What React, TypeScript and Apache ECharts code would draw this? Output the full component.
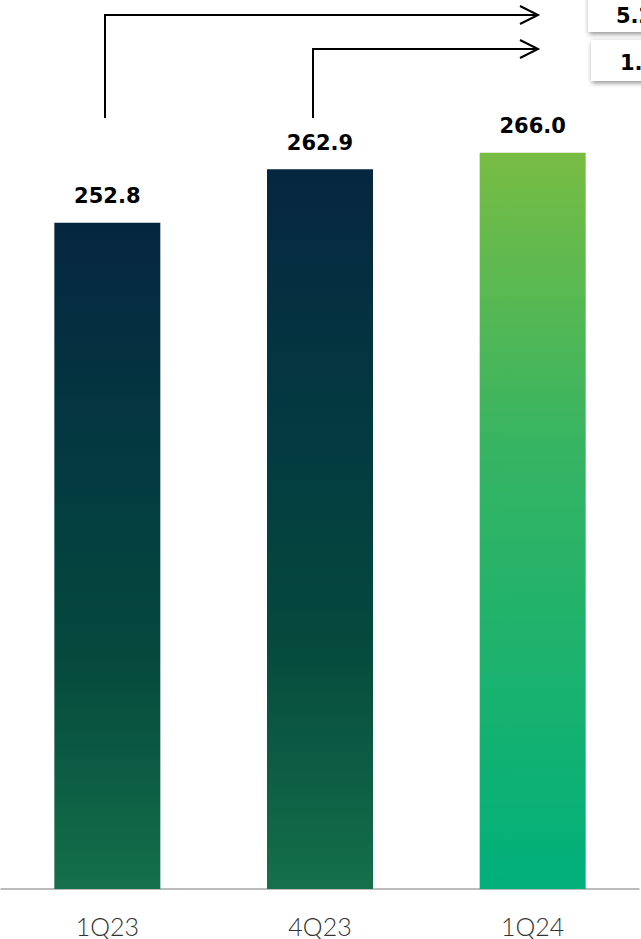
import React, { useEffect, useRef } from "react";
import * as echarts from "echarts";

const categories = ["1Q23", "4Q23", "1Q24"];
const values = [252.8, 262.9, 266.0];
const changeLabels = ["5.2%", "1.2%"];

const darkGradient = () =>
  new echarts.graphic.LinearGradient(0, 0, 0, 1, [
    { offset: 0, color: "#062640" },
    { offset: 0.4, color: "#033c40" },
    { offset: 0.65, color: "#05493d" },
    { offset: 1, color: "#14704a" },
  ]);
const greenGradient = () =>
  new echarts.graphic.LinearGradient(0, 0, 0, 1, [
    { offset: 0, color: "#78bc43" },
    { offset: 0.4, color: "#36b462" },
    { offset: 1, color: "#00b07a" },
  ]);

export default function App() {
  const ref = useRef<HTMLDivElement>(null);
  useEffect(() => {
    if (!ref.current) return;
    const chart = echarts.init(ref.current, undefined, { renderer: "svg" });
    const arrowStyle = { stroke: "#000", lineWidth: 2, fill: "none" };
    chart.setOption({
      animation: false,
      grid: { left: 1, right: 2, top: 0, bottom: 50 },
      xAxis: {
        type: "category",
        data: categories,
        axisLine: { lineStyle: { color: "#a6a6a6", width: 1.5 } },
        axisTick: { show: false },
        axisLabel: {
          color: "#333333",
          fontFamily: "Lato",
          fontWeight: 300,
          fontSize: 25,
          margin: 24,
        },
      },
      yAxis: { type: "value", min: 127.2, max: 294.8, show: false },
      series: [
        {
          type: "bar",
          barWidth: 106,
          data: values.map((v, i) => ({
            value: v,
            itemStyle: { color: i === 2 ? greenGradient() : darkGradient() },
          })),
          label: {
            show: true,
            position: "top",
            distance: 16,
            formatter: (p: any) => p.value.toFixed(1),
            fontFamily: "DejaVu Sans",
            fontWeight: "bold",
            fontSize: 21,
            color: "#000",
          },
        },
      ],
      graphic: [
        { type: "polyline", shape: { points: [[105, 118], [105, 15], [538, 15]] }, style: arrowStyle },
        { type: "polyline", shape: { points: [[520, 6], [538, 15], [520, 24]] }, style: arrowStyle },
        { type: "polyline", shape: { points: [[313, 118], [313, 49], [538, 49]] }, style: arrowStyle },
        { type: "polyline", shape: { points: [[520, 40], [538, 49], [520, 58]] }, style: arrowStyle },
        {
          type: "rect",
          shape: { x: 588, y: -12, width: 80, height: 44 },
          style: { fill: "#fff", shadowBlur: 5, shadowColor: "rgba(0,0,0,0.45)", shadowOffsetX: 1, shadowOffsetY: 2 },
        },
        {
          type: "rect",
          shape: { x: 591, y: 40, width: 80, height: 41 },
          style: { fill: "#fff", shadowBlur: 5, shadowColor: "rgba(0,0,0,0.45)", shadowOffsetX: 1, shadowOffsetY: 2 },
        },
        {
          type: "text",
          x: 616,
          y: 16,
          style: { text: changeLabels[0], font: "bold 21px 'DejaVu Sans'", fill: "#000", verticalAlign: "middle" },
        },
        {
          type: "text",
          x: 620,
          y: 63,
          style: { text: changeLabels[1], font: "bold 21px 'DejaVu Sans'", fill: "#000", verticalAlign: "middle" },
        },
      ],
    });
    return () => chart.dispose();
  }, []);
  return <div ref={ref} style={{ width: 641, height: 939, position: "absolute", left: 0, top: 0 }} />;
}
